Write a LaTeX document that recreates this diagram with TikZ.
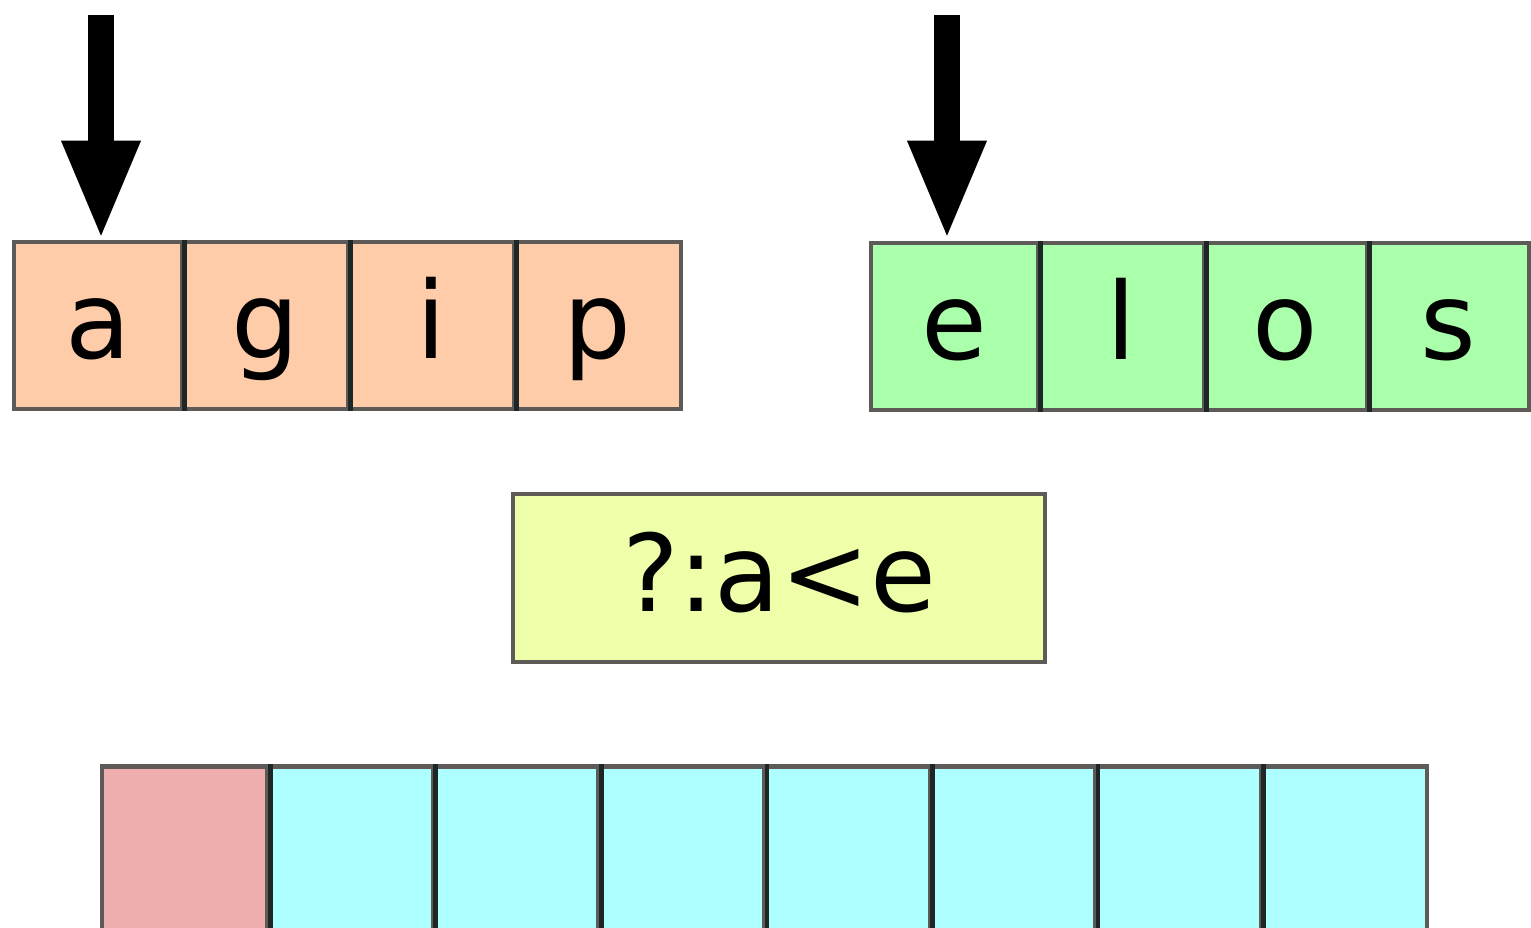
\documentclass[tikz,border=0pt]{standalone}
\usepackage{fontspec}
\setmainfont{DejaVu Sans}
\usetikzlibrary{arrows.meta}

\definecolor{cellorange}{HTML}{FFCCAA}
\definecolor{cellgreen}{HTML}{AAFFAA}
\definecolor{cellyellow}{HTML}{EEFFAA}
\definecolor{cellpink}{HTML}{EEAEAE}
\definecolor{cellcyan}{HTML}{AEFFFF}
\definecolor{edgegray}{HTML}{5E5A58}
\definecolor{divdark}{HTML}{1E2626}

\tikzset{
  cell/.style={rectangle, draw=edgegray, line width=4.5pt, inner sep=0pt,
    minimum height=167pt, text height=80pt, text depth=14pt,
    font=\fontsize{107}{120}\selectfont},
  divider/.style={draw=divdark, line width=4.5pt},
  pointer/.style={line width=26pt, line cap=butt,
    -{Triangle[width=80pt,length=95pt,line width=0pt]}},
}

\begin{document}
\begin{tikzpicture}[x=1pt,y=-1pt]
  \useasboundingbox[fill=white] (0,0) rectangle (1531,928);

  % left run: a g i p
  \node[cell, fill=cellorange, minimum width=168pt] (a1) at (98,325.5) {a};
  \node[cell, fill=cellorange, minimum width=166pt] (a2) at (265,325.5) {g};
  \node[cell, fill=cellorange, minimum width=166pt] (a3) at (431,325.5) {i};
  \node[cell, fill=cellorange, minimum width=167pt] (a4) at (597.5,325.5) {p};
  \foreach \i in {a1,a2,a3}
    \draw[divider] (\i.north east) -- (\i.south east);

  % right run: e l o s
  \node[cell, fill=cellgreen, minimum width=167pt] (b1) at (954.5,326.5) {e};
  \node[cell, fill=cellgreen, minimum width=166pt] (b2) at (1121,326.5) {l};
  \node[cell, fill=cellgreen, minimum width=163pt] (b3) at (1285.5,326.5) {o};
  \node[cell, fill=cellgreen, minimum width=162pt] (b4) at (1448,326.5) {s};
  \foreach \i in {b1,b2,b3}
    \draw[divider] (\i.north east) -- (\i.south east);

  % read positions
  \coordinate (pa) at (101,15);
  \coordinate (pb) at (947,15);
  \draw[pointer] (pa) -- ([yshift=4pt]a1.north -| pa);
  \draw[pointer] (pb) -- ([yshift=5pt]b1.north -| pb);

  % comparison
  \node[cell, fill=cellyellow, minimum width=532pt, minimum height=168pt] (cmp) at (779,578) {?:a<e};

  % output run
  \node[cell, fill=cellpink, minimum width=166pt] (c1) at (185,850) {};
  \foreach \k in {2,...,8}
    \node[cell, fill=cellcyan, minimum width=166pt] (c\k) at ({102+165.6*(\k-0.5)},850) {};
  \foreach \k in {1,...,7}
    \draw[divider] (c\k.north east) -- (c\k.south east);
\end{tikzpicture}
\end{document}
